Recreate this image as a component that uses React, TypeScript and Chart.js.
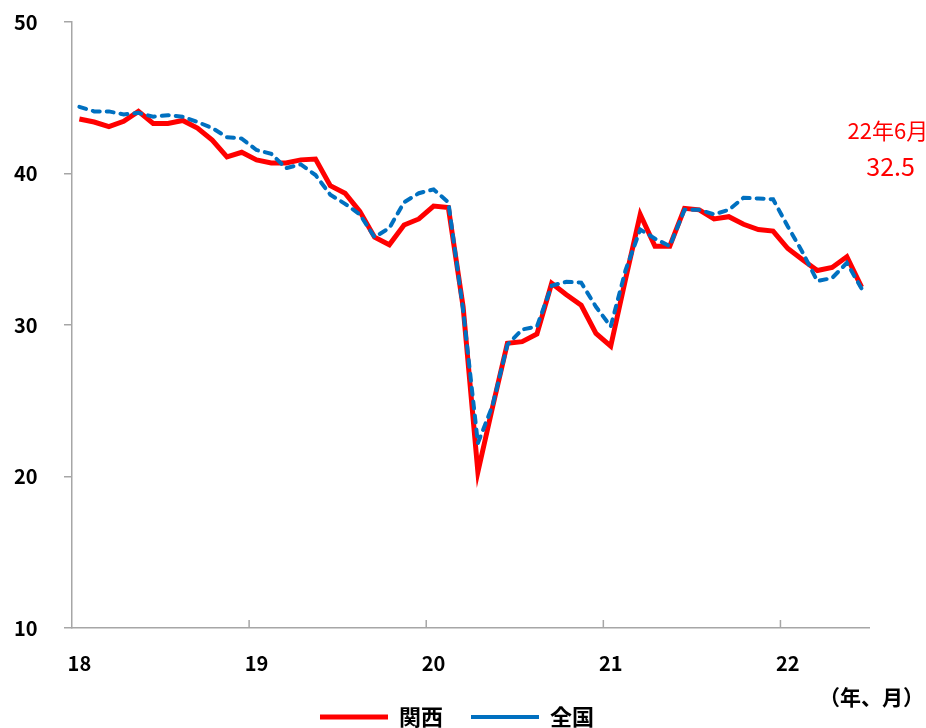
import React, { useEffect, useRef } from "react";
import { Chart, registerables } from "chart.js";

Chart.register(...registerables);

const FONT = "'Noto Sans CJK JP', 'Noto Sans', sans-serif";

const years = ["18", "19", "20", "21", "22"];
const monthsPerYear = [12, 12, 12, 12, 6];
const categories: string[] = [];
years.forEach((yy, yi) => {
  for (let m = 1; m <= monthsPerYear[yi]; m++) categories.push(`${yy}/${m}`);
});
const yearTickLabels = ["18", "19", "20", "21", "22"];

const kansai = [
  43.6, 43.4, 43.1, 43.45, 44.1, 43.3, 43.3, 43.5, 43.0, 42.2, 41.1, 41.4,
  40.9, 40.7, 40.7, 40.9, 40.95, 39.2, 38.7, 37.5, 35.8, 35.3, 36.6, 37.0,
  37.85, 37.75, 31.2, 20.3, 24.6, 28.8, 28.9, 29.4, 32.75, 32.0, 31.3, 29.45,
  28.6, 33.0, 37.3, 35.2, 35.2, 37.7, 37.6, 37.0, 37.15, 36.65, 36.3, 36.2,
  35.05, 34.3, 33.6, 33.8, 34.5, 32.5,
];

const zenkoku = [
  44.4, 44.1, 44.1, 43.9, 44.0, 43.75, 43.85, 43.75, 43.4, 43.0, 42.4, 42.3,
  41.55, 41.3, 40.35, 40.6, 39.9, 38.6, 38.0, 37.3, 35.8, 36.4, 38.1, 38.7,
  38.95, 38.1, 31.0, 22.2, 24.7, 28.7, 29.7, 29.9, 32.6, 32.85, 32.8, 31.2,
  29.9, 33.6, 36.3, 35.7, 35.2, 37.6, 37.6, 37.3, 37.6, 38.4, 38.35, 38.3,
  36.5, 34.8, 32.9, 33.1, 34.1, 32.4,
];

const seriesNames = ["関西", "全国"];
const latestLabel = "22年6月";
const unitLabel = "（年、月）";
const AXIS = "#a6a6a6";

const extrasPlugin = {
  id: "extras",
  afterDraw(chart: any) {
    const { ctx, chartArea, scales } = chart;
    const x = scales.x;
    ctx.save();
    // inward ticks on the x axis at year boundaries
    ctx.strokeStyle = AXIS;
    ctx.lineWidth = 1.5;
    const half = (x.getPixelForValue(1) - x.getPixelForValue(0)) / 2;
    for (let i = 12; i < categories.length; i += 12) {
      const px = x.getPixelForValue(i) - half;
      ctx.beginPath();
      ctx.moveTo(px, chartArea.bottom);
      ctx.lineTo(px, chartArea.bottom - 8);
      ctx.stroke();
    }
    // latest value annotation
    const lastIdx = kansai.length - 1;
    const lx = x.getPixelForValue(lastIdx);
    ctx.fillStyle = "#FF0000";
    ctx.textAlign = "left";
    ctx.textBaseline = "middle";
    ctx.font = `22px ${FONT}`;
    ctx.fillText(latestLabel, lx - 14, 131);
    ctx.textAlign = "center";
    ctx.font = `25px ${FONT}`;
    ctx.fillText(kansai[lastIdx].toFixed(1), lx + 29, 166);
    // unit label
    ctx.fillStyle = "#000";
    ctx.font = `bold 21px ${FONT}`;
    ctx.textAlign = "right";
    ctx.fillText(unitLabel, 924, 697);
    ctx.restore();
  },
};

export default function App() {
  const ref = useRef<HTMLCanvasElement | null>(null);
  useEffect(() => {
    if (!ref.current) return;
    Chart.defaults.font.family = FONT;
    const chart = new Chart(ref.current, {
      type: "line",
      data: {
        labels: categories,
        datasets: [
          {
            label: seriesNames[0],
            data: kansai,
            borderColor: "#FF0000",
            backgroundColor: "#FF0000",
            borderWidth: 5,
            pointRadius: 0,
            pointStyle: "line",
            tension: 0,
            order: 1,
          },
          {
            label: seriesNames[1],
            data: zenkoku,
            borderColor: "#0070C0",
            backgroundColor: "#0070C0",
            borderWidth: 4,
            borderDash: [7, 7],
            borderCapStyle: "round",
            pointRadius: 0,
            pointStyle: "line",
            tension: 0,
            order: 0,
          },
        ],
      },
      options: {
        animation: false,
        responsive: false,
        maintainAspectRatio: false,
        layout: { padding: { top: 22, right: 26, left: 14, bottom: 0 } },
        plugins: {
          legend: {
            position: "bottom",
            labels: {
              usePointStyle: true,
              pointStyle: "line",
              pointStyleWidth: 68,
              padding: 28,
              color: "#000",
              font: { family: FONT, size: 22, weight: "bold" },
              sort: (a: any, b: any) => a.datasetIndex - b.datasetIndex,
            },
          },
          tooltip: { enabled: false },
          title: { display: false },
        },
        scales: {
          x: {
            type: "category",
            offset: true,
            grid: { display: true, drawOnChartArea: false, drawTicks: false, offset: true },
            border: { display: true, color: AXIS, width: 1.5 },
            ticks: {
              autoSkip: false,
              maxRotation: 0,
              padding: 23,
              color: "#000",
              font: { family: FONT, size: 20, weight: "bold" },
              callback: (_v: any, i: number) => (i % 12 === 0 ? yearTickLabels[i / 12] : null),
            },
            afterFit: (s: any) => {
              s.height = 50;
            },
          },
          y: {
            min: 10,
            max: 50,
            ticks: {
              stepSize: 10,
              padding: 2,
              crossAlign: "far",
              color: "#000",
              font: { family: FONT, size: 20, weight: "bold" },
            },
            grid: { drawOnChartArea: false, drawTicks: true, tickLength: 8, color: AXIS, lineWidth: 1.5 },
            border: { display: true, color: AXIS, width: 1.5 },
            afterFit: (s: any) => {
              s.width = 58;
            },
          },
          yRight: {
            position: "right",
            display: true,
            min: 10,
            max: 50,
            ticks: { display: false },
            grid: { display: false, drawTicks: false },
            border: { display: false },
            afterFit: (s: any) => {
              s.width = 31;
            },
          },
        },
      },
      plugins: [extrasPlugin],
    });
    return () => chart.destroy();
  }, []);
  return (
    <div style={{ position: "absolute", left: 0, top: 0, width: 926, height: 738, background: "#fff" }}>
      <canvas ref={ref} width={926} height={738} style={{ display: "block" }} />
    </div>
  );
}
